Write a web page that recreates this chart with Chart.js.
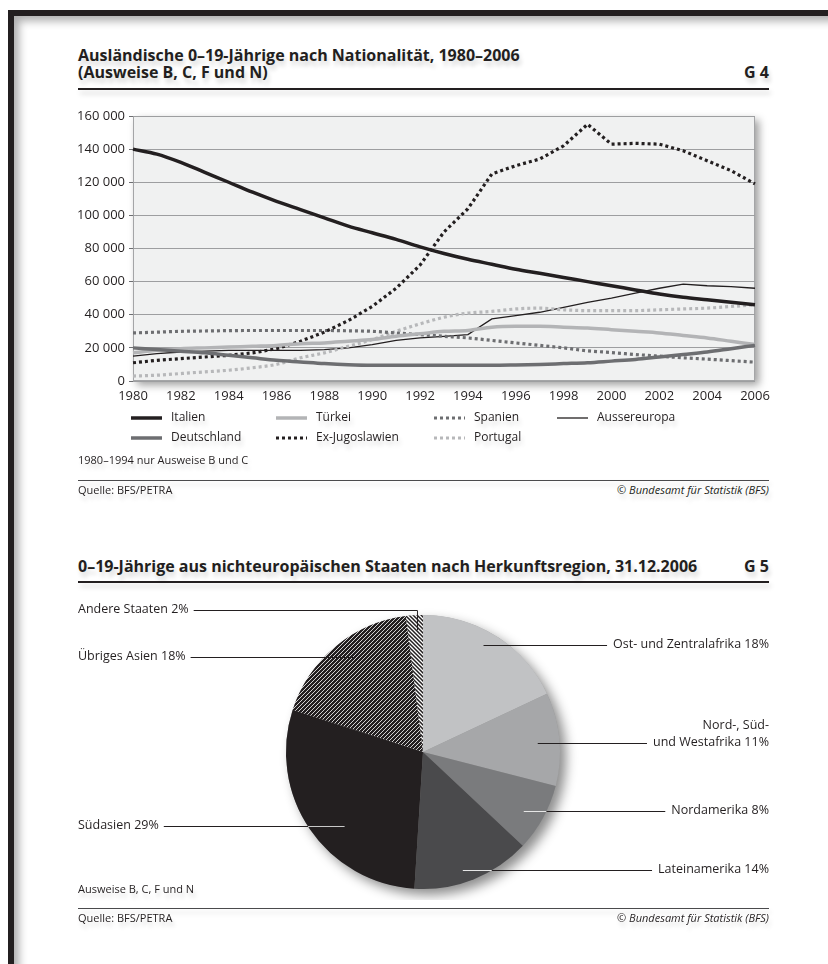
<!DOCTYPE html>
<html><head><meta charset="utf-8">
<script src="https://cdn.jsdelivr.net/npm/chart.js@4.4.1/dist/chart.umd.min.js"></script>
<style>
html,body{margin:0;padding:0;background:#fff;}
body{width:828px;height:964px;position:relative;overflow:hidden;font-family:"Open Sans",sans-serif;color:#231f20;}
.frame{position:absolute;left:8px;top:10px;width:840px;height:980px;border-top:6px solid #231f20;border-left:6px solid #231f20;box-shadow:inset 5px 5px 9px rgba(0,0,0,0.32);}
.t{position:absolute;white-space:nowrap;text-shadow:2px 5px 4px rgba(0,0,0,0.15);}
.title{font-weight:700;font-size:16px;line-height:17px;}
.small{font-size:11px;line-height:14px;}
.rt{right:59px;text-align:right;}
.rule{position:absolute;left:78px;width:691px;background:#231f20;box-shadow:2px 4px 5px rgba(0,0,0,0.18);}
.leg{position:absolute;font-size:12px;line-height:16px;white-space:nowrap;text-shadow:2px 5px 4px rgba(0,0,0,0.15);}
canvas{position:absolute;left:0;}
</style>
</head><body>
<div class="frame"></div>

<div class="t title" style="left:78px;top:47px;">Ausländische 0–19-Jährige nach Nationalität, 1980–2006</div>
<div class="t title" style="left:78px;top:64px;">(Ausweise B, C, F und N)</div>
<div class="t title rt" style="top:64px;">G 4</div>
<div class="rule" style="top:88px;height:2px;"></div>

<canvas id="lineChart" width="828" height="410" style="top:0;"></canvas>
<div id="legend"></div>

<div class="t small" style="left:78px;top:453px;">1980–1994 nur Ausweise B und C</div>
<div class="rule" style="top:480px;height:1px;background:#4a4a4c;"></div>
<div class="t small" style="left:78px;top:483px;">Quelle: BFS/PETRA</div>
<div class="t small rt" style="top:483px;font-style:italic;">© Bundesamt für Statistik (BFS)</div>

<div class="t title" style="left:78px;top:558px;">0–19-Jährige aus nichteuropäischen Staaten nach Herkunftsregion, 31.12.2006</div>
<div class="t title rt" style="top:558px;">G 5</div>
<div class="rule" style="top:581px;height:2px;"></div>

<canvas id="pieChart" width="828" height="310" style="top:590px;"></canvas>

<div class="t small" style="left:78px;top:882px;">Ausweise B, C, F und N</div>
<div class="rule" style="top:908px;height:1px;background:#4a4a4c;"></div>
<div class="t small" style="left:78px;top:911px;">Quelle: BFS/PETRA</div>
<div class="t small rt" style="top:911px;font-style:italic;">© Bundesamt für Statistik (BFS)</div>

<script>
// ---------- DATA ----------
const years = ['1980','1981','1982','1983','1984','1985','1986','1987','1988','1989','1990','1991','1992','1993','1994','1995','1996','1997','1998','1999','2000','2001','2002','2003','2004','2005','2006'];
const yearTickLabels = ['1980','1982','1984','1986','1988','1990','1992','1994','1996','1998','2000','2002','2004','2006'];
const yTicks = [0,20000,40000,60000,80000,100000,120000,140000,160000];

const italien      = [140000,137000,132000,126000,120000,114000,108500,103500,98500,93500,89500,85500,81000,77000,73500,70500,67500,65000,62500,60000,57500,55000,52500,50500,49000,47500,46000];
const deutschland  = [20000,19000,18000,17000,15500,14000,12500,11500,10500,9800,9500,9500,9500,9500,9500,9500,9700,10000,10500,11000,12000,13000,14500,16000,17500,19500,21500];
const tuerkei      = [17000,18500,19500,20000,20500,21000,21500,22500,23000,24000,25000,27000,28500,30000,30500,32500,33000,33000,32500,32000,31000,30000,29000,27500,26000,24000,22000];
const exJugoslawien= [11000,12500,13500,14500,15500,17000,19500,24000,29500,36500,45000,56000,70000,90000,104000,125000,130000,134000,142000,155000,143000,143500,143000,139000,133000,127000,119000];
const spanien      = [29000,29500,30000,30200,30400,30500,30500,30500,30500,30300,30000,29000,28000,27000,26000,24500,23000,21500,20000,18200,17200,16000,15000,14000,13200,12300,11400];
const portugal     = [3000,3500,4500,5500,6500,8000,10000,14000,17000,21000,25000,30000,34500,38500,41000,42000,43500,44000,43000,42500,42500,42500,43000,43500,44000,45000,46000];
const aussereuropa = [15000,16500,17500,18000,18500,18500,18500,18500,19000,20000,22000,24500,26000,27000,28000,37500,39500,41500,44500,47500,50000,53000,56000,58500,57500,57000,56000];

const pieCategories = ['Ost- und Zentralafrika','Nord-, Süd- und Westafrika','Nordamerika','Lateinamerika','Südasien','Übriges Asien','Andere Staaten'];
const pieValues = [18,11,8,14,29,18,2];

// ---------- LINE CHART ----------
const INK = '#231f20';
const fmt = v => String(v).replace(/\B(?=(\d{3})+(?!\d))/g, ' ');

const seriesDefs = [
  {label:'Italien',        data:italien,       color:INK,       width:3.5, dash:[],    tension:0.35, slot:[0,0]},
  {label:'Deutschland',    data:deutschland,   color:'#6d6e71', width:3.5, dash:[],    tension:0.35, slot:[0,1]},
  {label:'Türkei',         data:tuerkei,       color:'#b3b4b6', width:3.5, dash:[],    tension:0.35, slot:[1,0]},
  {label:'Ex-Jugoslawien', data:exJugoslawien, color:INK,       width:3.2, dash:[3,3], tension:0,    slot:[1,1]},
  {label:'Spanien',        data:spanien,       color:'#6d6e71', width:3.2, dash:[3,3], tension:0.35, slot:[2,0]},
  {label:'Portugal',       data:portugal,      color:'#b7b8ba', width:3.2, dash:[3,3], tension:0.35, slot:[2,1]},
  {label:'Aussereuropa',   data:aussereuropa,  color:INK,       width:1.3, dash:[],    tension:0,    slot:[3,0]}
];

const plotBg = {
  id:'plotBg',
  beforeDraw(chart){
    const {ctx, chartArea:a} = chart;
    ctx.save();
    ctx.shadowColor='rgba(0,0,0,0.38)'; ctx.shadowBlur=8; ctx.shadowOffsetX=4; ctx.shadowOffsetY=4;
    ctx.fillStyle='#f0f1f1';
    ctx.fillRect(a.left,a.top,a.right-a.left,a.bottom-a.top);
    ctx.restore();
    ctx.save();
    ctx.strokeStyle='#a4a5a7'; ctx.lineWidth=1;
    ctx.strokeRect(a.left+0.5,a.top+0.5,a.right-a.left-1,a.bottom-a.top-1);
    ctx.restore();
  }
};

new Chart(document.getElementById('lineChart'), {
  type:'line',
  data:{
    labels:years,
    datasets:seriesDefs.map(s=>({
      label:s.label, data:s.data, borderColor:s.color, backgroundColor:s.color,
      borderWidth:s.width, borderDash:s.dash, borderCapStyle:'butt',
      tension:s.tension, cubicInterpolationMode: s.tension? 'monotone':'default',
      pointRadius:0, fill:false
    }))
  },
  options:{
    responsive:false, animation:false, devicePixelRatio:1,
    layout:{padding:{left:0,right:73,top:116,bottom:7}},
    plugins:{legend:{display:false}, tooltip:{enabled:false}},
    scales:{
      x:{
        type:'category', offset:false,
        grid:{display:false, drawTicks:false}, border:{display:false},
        ticks:{autoSkip:false, maxRotation:0, minRotation:0, padding:7, color:INK,
          font:{family:'Open Sans', size:13},
          callback(v){ const l=this.getLabelForValue(v); return yearTickLabels.includes(l)?l:''; }},
        afterFit(s){ s.height=22; }
      },
      y:{
        min:0, max:160000,
        afterBuildTicks(s){ s.ticks = yTicks.map(v=>({value:v})); },
        ticks:{padding:4, color:INK, font:{family:'Open Sans', size:13}, callback:v=>fmt(v)},
        grid:{color:'#9d9ea0', lineWidth:1, tickLength:4, tickColor:'#6d6e71'},
        border:{display:false},
        afterFit(s){ s.width=133; }
      }
    }
  },
  plugins:[plotBg]
});

// ---------- LEGEND (HTML) ----------
const legCols = [131,276,434,557], legRows = [418,438];
const legend = document.getElementById('legend');
seriesDefs.forEach(s=>{
  const x = legCols[s.slot[0]], y = legRows[s.slot[1]];
  const svg = `<svg width="32" height="8" style="position:absolute;left:${x}px;top:${y-4}px;overflow:visible">
    <line x1="0" y1="4" x2="31" y2="4" stroke="${s.color}" stroke-width="${s.width}" ${s.dash.length?`stroke-dasharray="${s.dash.join(' ')}"`:''}/></svg>`;
  legend.insertAdjacentHTML('beforeend', svg + `<div class="leg" style="left:${x+40}px;top:${y-9}px;">${s.label}</div>`);
});

// ---------- PIE CHART ----------
function hatch(bg, fg, dir, size, lw){
  const c=document.createElement('canvas'); c.width=c.height=size;
  const g=c.getContext('2d');
  g.fillStyle=bg; g.fillRect(0,0,size,size);
  g.strokeStyle=fg; g.lineWidth=lw; g.beginPath();
  if(dir>0){ // '/'
    g.moveTo(0,size); g.lineTo(size,0);
    g.moveTo(-1,1); g.lineTo(1,-1);
    g.moveTo(size-1,size+1); g.lineTo(size+1,size-1);
  } else {   // '\'
    g.moveTo(0,0); g.lineTo(size,size);
    g.moveTo(size-1,-1); g.lineTo(size+1,1);
    g.moveTo(-1,size-1); g.lineTo(1,size+1);
  }
  g.stroke();
  return document.createElement('canvas').getContext('2d').createPattern(c,'repeat');
}
const pieColors = ['#c1c2c4','#a6a7a9','#7a7b7d','#4a4a4c','#231f20', hatch('#231f20','#ffffff',1,4,0.8), hatch('#ffffff','#231f20',-1,4,1.5)];

// label layout: side, radius fraction of anchor, angle offset (deg), inner segment colour
const pieLayout = [
  {side:'right', rf:0.90, da:-3,  inner:null},
  {side:'right', rf:0.84, da:1,   inner:null, breakAfter:'Süd-'},
  {side:'right', rf:0.85, da:1.5, inner:'#e6e6e6'},
  {side:'right', rf:0.91, da:3,   inner:'#e6e6e6'},
  {side:'left',  rf:0.785,da:-9,  inner:'#c8c8c8'},
  {side:'left',  rf:0.85, da:4,   inner:null},
  {side:'left',  rf:0.89, da:1,   inner:null, elbow:-5}
];

const pieShadow = {
  id:'pieShadow',
  beforeDatasetsDraw(chart){
    const a=chart.getDatasetMeta(0).data[0]; if(!a) return;
    const ctx=chart.ctx; ctx.save();
    ctx.shadowColor='rgba(0,0,0,0.45)'; ctx.shadowBlur=12; ctx.shadowOffsetX=6; ctx.shadowOffsetY=6;
    ctx.fillStyle='#999'; ctx.beginPath(); ctx.arc(a.x,a.y,a.outerRadius,0,Math.PI*2); ctx.fill();
    ctx.restore();
  }
};

const pieLabels = {
  id:'pieLabels',
  afterDatasetsDraw(chart){
    const ctx=chart.ctx, meta=chart.getDatasetMeta(0);
    ctx.save();
    ctx.font='12.5px "Open Sans"'; ctx.fillStyle=INK; ctx.textBaseline='middle';
    meta.data.forEach((arc,i)=>{
      const L=pieLayout[i], R=arc.outerRadius, cx=arc.x, cy=arc.y;
      const ang=(arc.startAngle+arc.endAngle)/2 + L.da*Math.PI/180;
      const ax=cx+L.rf*R*Math.cos(ang), ay=cy+L.rf*R*Math.sin(ang);
      const text=pieCategories[i]+' '+pieValues[i]+'%';
      let lines=[text];
      if(L.breakAfter){ const k=text.indexOf(L.breakAfter)+L.breakAfter.length; lines=[text.slice(0,k), text.slice(k).trim()]; }
      const ly = (L.elbow!==undefined) ? Math.round(cy-R+L.elbow)+0.5 : Math.round(ay)+0.5;
      const ty = ly-1.5;
      lines.forEach((ln,j)=>{
        const y = ty-(lines.length-1-j)*17;
        if(L.side==='right'){ ctx.textAlign='right'; ctx.fillText(ln,769,y); }
        else { ctx.textAlign='left'; ctx.fillText(ln,78,y); }
      });
      const w=ctx.measureText(lines[lines.length-1]).width;
      const lx = L.side==='right' ? 769-w-6 : 78+w+5;
      ctx.strokeStyle=INK; ctx.lineWidth=1;
      ctx.beginPath(); ctx.moveTo(lx,ly); ctx.lineTo(ax,ly);
      if(L.elbow!==undefined){ ctx.lineTo(ax,ay); }
      ctx.stroke();
      if(L.inner){
        const dy=ly-cy, ex = cx + (L.side==='right'?1:-1)*Math.sqrt(Math.max(R*R-dy*dy,0));
        ctx.strokeStyle=L.inner; ctx.beginPath(); ctx.moveTo(ex,ly); ctx.lineTo(ax,ly); ctx.stroke();
      }
    });
    ctx.restore();
  }
};

new Chart(document.getElementById('pieChart'), {
  type:'pie',
  data:{labels:pieCategories, datasets:[{data:pieValues, backgroundColor:pieColors, borderWidth:0}]},
  options:{
    responsive:false, animation:false, devicePixelRatio:1,
    layout:{padding:{left:286,right:268,top:25,bottom:11}},
    plugins:{legend:{display:false}, tooltip:{enabled:false}}
  },
  plugins:[pieShadow,pieLabels]
});
</script>
</body></html>
